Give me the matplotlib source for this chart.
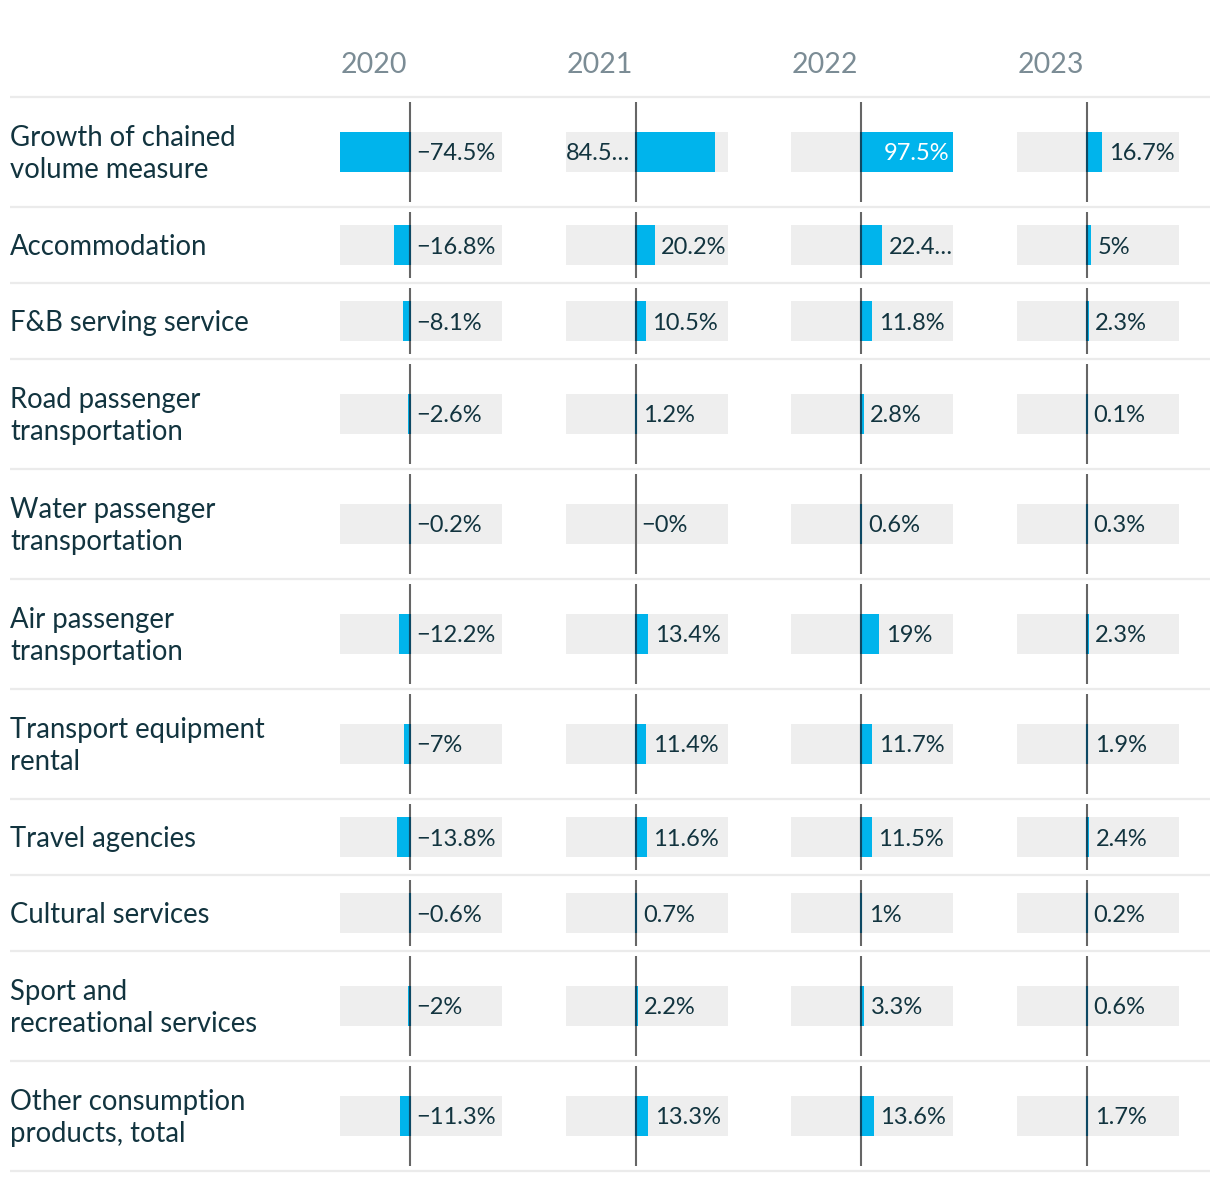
import matplotlib.pyplot as plt

plt.rcParams['font.family'] = ['Lato', 'DejaVu Sans']

years = ['2020', '2021', '2022', '2023']
categories = [
    "Growth of chained\nvolume measure",
    "Accommodation",
    "F&B serving service",
    "Road passenger\ntransportation",
    "Water passenger\ntransportation",
    "Air passenger\ntransportation",
    "Transport equipment\nrental",
    "Travel agencies",
    "Cultural services",
    "Sport and\nrecreational services",
    "Other consumption\nproducts, total",
]
v2020 = [-74.5, -16.8, -8.1, -2.6, -0.2, -12.2, -7, -13.8, -0.6, -2, -11.3]
v2021 = [84.5, 20.2, 10.5, 1.2, -0.0, 13.4, 11.4, 11.6, 0.7, 2.2, 13.3]
v2022 = [97.5, 22.4, 11.8, 2.8, 0.6, 19, 11.7, 11.5, 1, 3.3, 13.6]
v2023 = [16.7, 5, 2.3, 0.1, 0.3, 2.3, 1.9, 2.4, 0.2, 0.6, 1.7]
columns = [v2020, v2021, v2022, v2023]

BLUE = '#00b4ec'
GREY = '#eeeeee'
TEXT = '#12343f'
HEAD = '#7b8c95'

W, H = 1220, 1182
fig = plt.figure(figsize=(W / 100, H / 100), dpi=100)
bg = fig.add_axes([0, 0, 1, 1])
bg.set_xlim(0, W)
bg.set_ylim(H, 0)
bg.axis('off')

# row geometry (pixels)
top = 97
tops, centers, bottoms = [], [], []
for c in categories:
    h = 110 if '\n' in c else 76
    tops.append(top)
    centers.append(top + h / 2)
    bottoms.append(top + h)
    top += h

bg.hlines([tops[0]] + bottoms, 10, 1210, color='#ebebeb', lw=1.6)
for c, yc in zip(categories, centers):
    bg.text(10, yc + 2, c, fontsize=19.8, color=TEXT, va='center', ha='left',
            linespacing=1.32)

lo = min(min(col) for col in columns)
hi = max(max(col) for col in columns)

def fmt(v):
    s = f"{abs(v):g}%"
    return ('\u2212' + s) if (v < 0 or str(v).startswith('-')) else s

col_w = 162
for i, (year, vals) in enumerate(zip(years, columns)):
    x0 = 340 + 225.5 * i
    ax = fig.add_axes([x0 / W, 0, col_w / W, 1])
    ax.set_xlim(lo, hi)
    ax.set_ylim(H, 0)
    ax.axis('off')
    bg.text(x0 + 1, 65, year, fontsize=20.5, color=HEAD, va='center', ha='left')

    ax.barh(centers, hi - lo, left=lo, height=40, color=GREY, lw=0)
    ax.barh(centers, vals, height=40, color=BLUE, lw=0)
    for t, b in zip(tops, bottoms):
        ax.plot([0, 0], [t + 5, b - 5], color='#666666', lw=1.5, zorder=3,
                solid_capstyle='butt')
    for yc, v in zip(centers, vals):
        if v != 0:
            ax.plot([0, 0], [yc - 20, yc + 20], color='#0d4863', lw=1.5,
                    zorder=4, solid_capstyle='butt')

    px = col_w / (hi - lo)  # pixels per unit
    fig.canvas.draw()
    renderer = fig.canvas.get_renderer()
    for yc, v in zip(centers, vals):
        label = fmt(v)
        if v <= 0:
            x, ha, color, limit = 6 / px, 'left', TEXT, hi - 0.5 / px
        elif hi - v >= 30:
            x, ha, color, limit = v + 6.5 / px, 'left', TEXT, hi - 0.5 / px
        elif v >= 0.9 * hi:
            x, ha, color, limit = v - 4 / px, 'right', 'white', None
        else:
            x, ha, color, limit = lo, 'left', TEXT, -8 / px
        t = ax.text(x, yc + 2, label, fontsize=17, color=color, ha=ha,
                    va='center')
        if limit is not None:
            ext = t.get_window_extent(renderer)
            right = ax.transData.inverted().transform((ext.x1, 0))[0]
            if right > limit:
                t.set_text(label[:-1] + '\u2026')

fig.savefig('out.png', dpi=100)
